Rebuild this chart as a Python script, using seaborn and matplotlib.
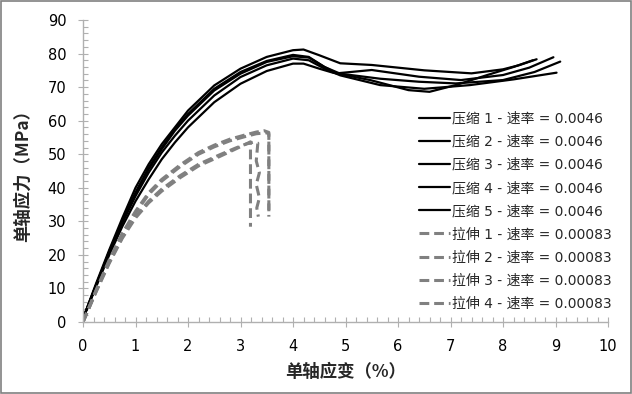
import numpy as np
import pandas as pd
import matplotlib
matplotlib.use("Agg")
import matplotlib.pyplot as plt
import seaborn as sns

# 压缩曲线 (strain %, stress MPa)
c1_x = [0, 0.25, 0.5, 0.75, 1.0, 1.25, 1.5, 1.75, 2.0, 2.5, 3.0, 3.5, 4.0, 4.2, 4.5, 4.9, 5.5, 6.0, 6.5, 7.0, 7.4, 8.0, 8.3, 8.64]
c1_y = [1, 11.5, 21.5, 31, 40, 47, 53, 58, 63, 70.5, 75.5, 79, 81, 81.2, 79.5, 77.1, 76.6, 75.8, 75, 74.5, 74.1, 75.3, 76.5, 78.3]
c2_x = [0, 0.25, 0.5, 0.75, 1.0, 1.25, 1.5, 1.75, 2.0, 2.5, 3.0, 3.5, 4.0, 4.3, 4.6, 4.83, 5.5, 6.4, 7.2, 8.0, 8.5, 8.96]
c2_y = [1, 11, 21, 30, 38.5, 46, 52, 57.5, 62, 69.5, 74.5, 77.8, 79.6, 79, 76, 74.1, 75.1, 73.1, 72.1, 73.6, 75.8, 78.9]
c3_x = [0, 0.25, 0.5, 0.75, 1.0, 1.25, 1.5, 1.75, 2.0, 2.5, 3.0, 3.5, 4.0, 4.3, 4.6, 4.9, 5.66, 6.4, 7.1, 8.0, 8.6, 9.09]
c3_y = [1, 11, 21, 30, 38.5, 45.5, 51.5, 57, 61.5, 69, 74, 77.5, 79.2, 78.8, 76, 74, 72.5, 71.6, 71.1, 72.1, 74.5, 77.6]
c4_x = [0, 0.25, 0.5, 0.75, 1.0, 1.25, 1.5, 1.75, 2.0, 2.5, 3.0, 3.5, 4.0, 4.2, 4.5, 4.76, 5.47, 6.2, 6.6, 7.1, 7.7, 8.2, 8.57]
c4_y = [1, 10.5, 20, 28.5, 36, 42.5, 48.5, 53.5, 58, 65.5, 71, 74.8, 77, 77, 75.5, 74.3, 72.1, 69.1, 68.6, 70.6, 73.6, 76, 78]
c5_x = [0, 0.25, 0.5, 0.75, 1.0, 1.25, 1.5, 1.75, 2.0, 2.5, 3.0, 3.5, 4.0, 4.3, 4.6, 4.9, 5.66, 6.5, 7.37, 8.2, 9.02]
c5_y = [1, 11, 20.5, 29.5, 37.5, 44.5, 50.5, 55.5, 60, 67.5, 73, 76.5, 78.5, 78, 75.5, 73.5, 70.6, 69.5, 70.6, 72.3, 74.3]

# 拉伸曲线
t1_x = [0, 0.25, 0.5, 0.75, 1.0, 1.25, 1.5, 1.85, 2.2, 2.5, 2.8, 3.1, 3.3, 3.45, 3.54, 3.54]
t1_y = [0, 9.5, 18.5, 26.5, 33, 38.5, 42.5, 46.8, 50.5, 52.7, 54.5, 55.8, 56.6, 57, 56.5, 31.4]
t2_x = [0, 0.25, 0.5, 0.75, 1.0, 1.25, 1.5, 1.85, 2.2, 2.5, 2.8, 3.1, 3.3, 3.5, 3.54, 3.54]
t2_y = [0, 9.3, 18.2, 26, 32.5, 38, 42, 46.3, 50, 52.2, 54, 55.3, 56.1, 56.4, 56, 33]
t3_x = [0, 0.25, 0.5, 0.75, 1.0, 1.25, 1.5, 1.85, 2.2, 2.6, 2.9, 3.1, 3.19, 3.19]
t3_y = [0, 9, 17.5, 25, 31, 35.5, 39, 43, 46.5, 49.3, 51.5, 53, 53.7, 28.4]
t4_x = [0, 0.25, 0.5, 0.75, 1.0, 1.25, 1.5, 1.85, 2.2, 2.6, 2.9, 3.1, 3.25, 3.33, 3.3, 3.36, 3.3, 3.36, 3.31, 3.34]
t4_y = [0, 9.2, 17.8, 25.3, 31.4, 36, 39.6, 43.6, 47, 49.8, 51.8, 53, 53.6, 53.3, 48, 44.5, 41, 37, 34, 31.4]

comp_labels = ["压缩 1 - 速率 = 0.0046", "压缩 2 - 速率 = 0.0046", "压缩 3 - 速率 = 0.0046",
               "压缩 4 - 速率 = 0.0046", "压缩 5 - 速率 = 0.0046"]
tens_labels = ["拉伸 1 - 速率 = 0.00083", "拉伸 2 - 速率 = 0.00083",
               "拉伸 3 - 速率 = 0.00083", "拉伸 4 - 速率 = 0.00083"]

x_ticks = list(range(0, 11))
y_ticks = list(range(0, 91, 10))

sns.set_theme(style="white")
plt.rcParams["font.family"] = ["DejaVu Sans", "Noto Sans CJK SC"]

fig = plt.figure(figsize=(6.32, 3.94), dpi=100)
ax = fig.add_axes([83 / 632, 1 - 322 / 394, 525 / 632, 302 / 394])

comp = [(c1_x, c1_y), (c2_x, c2_y), (c3_x, c3_y), (c4_x, c4_y), (c5_x, c5_y)]
tens = [(t1_x, t1_y), (t2_x, t2_y), (t3_x, t3_y), (t4_x, t4_y)]

for (xs, ys), lab in zip(comp, comp_labels):
    df = pd.DataFrame({"strain": xs, "stress": ys})
    sns.lineplot(data=df, x="strain", y="stress", sort=False, estimator=None,
                 color="black", linewidth=1.6, label=lab, ax=ax)

for (xs, ys), lab in zip(tens, tens_labels):
    df = pd.DataFrame({"strain": xs, "stress": ys})
    l = sns.lineplot(data=df, x="strain", y="stress", sort=False, estimator=None,
                     color="#808080", linewidth=2.2, label=lab, ax=ax)
    l.lines[-1].set_dashes((3.2, 1.6))

ax.set_xlim(0, 10)
ax.set_ylim(0, 90)
ax.set_xticks(x_ticks)
ax.set_yticks(y_ticks)
ax.set_xticks(np.arange(0, 10.01, 0.2), minor=True)
ax.set_yticks(np.arange(0, 90.01, 2), minor=True)

grey = "#b0b0b0"
for s in ["top", "right"]:
    ax.spines[s].set_visible(False)
for s in ["left", "bottom"]:
    ax.spines[s].set_color(grey)
    ax.spines[s].set_linewidth(1.0)
ax.tick_params(which="major", direction="inout", length=7, width=0.8, color=grey,
               labelsize=10.5, labelcolor="black", bottom=True, left=True)
ax.tick_params(axis="y", which="major", pad=8.5)
ax.tick_params(axis="x", which="major", pad=9)
ax.tick_params(which="minor", direction="in", length=3.5, width=0.8, color=grey,
               bottom=True, left=True)

ax.set_xlabel("单轴应变（%）", fontsize=12.5, fontweight="bold", labelpad=6,
              family=["Noto Sans CJK SC", "DejaVu Sans"])
ax.set_ylabel("单轴应力（MPa）", fontsize=12.5, fontweight="bold", labelpad=11,
              family=["Noto Sans CJK SC", "DejaVu Sans"])

leg = ax.legend(loc="upper left", bbox_to_anchor=(0.64, 0.697), frameon=False,
                fontsize=10, handlelength=2.2, handletextpad=0.2,
                labelspacing=0.66, borderaxespad=0, borderpad=0)

fig.patches.append(plt.Rectangle((0.001, 0.002), 0.997, 0.996, transform=fig.transFigure,
                                 fill=False, edgecolor="#808080", linewidth=1.2))

fig.savefig("out.png", dpi=100)
